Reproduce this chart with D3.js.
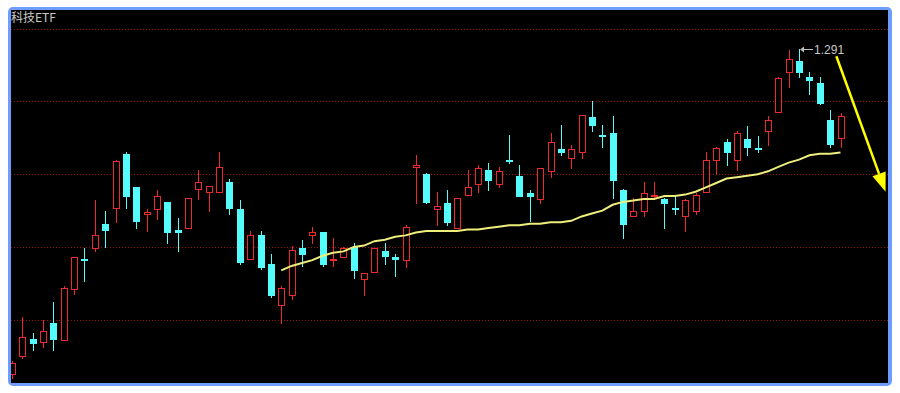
<!DOCTYPE html>
<html>
<head>
  <meta charset="utf-8">
  <script src="https://cdnjs.cloudflare.com/ajax/libs/d3/7.8.5/d3.min.js"></script>
  <style>
    body { margin: 0; background: #fff; }
    svg { display: block; }
  </style>
</head>
<body>
  <div id="chart"></div>
  <script>
    var title = '科技ETF';

    // daily candles, left to right
    var openPrices = [1.068, 1.080, 1.092, 1.090, 1.103, 1.091, 1.126, 1.147, 1.154, 1.171,
      1.182, 1.219, 1.196, 1.178, 1.181, 1.186, 1.167, 1.168, 1.195, 1.193,
      1.193, 1.200, 1.181, 1.147, 1.163, 1.143, 1.115, 1.122, 1.154, 1.163,
      1.165, 1.146, 1.148, 1.155, 1.133, 1.138, 1.152, 1.148, 1.146, 1.210,
      1.205, 1.181, 1.185, 1.168, 1.191, 1.198, 1.208, 1.198, 1.215, 1.204,
      1.192, 1.188, 1.207, 1.222, 1.216, 1.220, 1.244, 1.232, 1.233, 1.194,
      1.176, 1.180, 1.190, 1.188, 1.182, 1.176, 1.180, 1.193, 1.215, 1.227,
      1.215, 1.229, 1.223, 1.235, 1.248, 1.275, 1.283, 1.272, 1.268, 1.242, 1.230];
    var highPrices = [1.077, 1.107, 1.096, 1.105, 1.117, 1.128, 1.148, 1.154, 1.187, 1.180,
      1.215, 1.220, 1.196, 1.181, 1.194, 1.186, 1.175, 1.189, 1.208, 1.197,
      1.220, 1.202, 1.187, 1.166, 1.166, 1.150, 1.128, 1.156, 1.160, 1.169,
      1.165, 1.161, 1.155, 1.158, 1.137, 1.154, 1.158, 1.150, 1.170, 1.218,
      1.206, 1.193, 1.194, 1.189, 1.208, 1.211, 1.213, 1.210, 1.232, 1.211,
      1.194, 1.209, 1.233, 1.239, 1.225, 1.246, 1.255, 1.239, 1.245, 1.195,
      1.189, 1.200, 1.200, 1.189, 1.190, 1.188, 1.192, 1.220, 1.224, 1.229,
      1.235, 1.238, 1.231, 1.245, 1.272, 1.290, 1.291, 1.275, 1.272, 1.249, 1.247];
    var lowPrices = [1.065, 1.079, 1.084, 1.086, 1.084, 1.091, 1.123, 1.132, 1.152, 1.155,
      1.172, 1.182, 1.168, 1.166, 1.174, 1.158, 1.152, 1.168, 1.188, 1.180,
      1.193, 1.178, 1.143, 1.147, 1.140, 1.121, 1.103, 1.119, 1.142, 1.158,
      1.142, 1.142, 1.148, 1.134, 1.122, 1.138, 1.143, 1.135, 1.141, 1.185,
      1.185, 1.170, 1.170, 1.168, 1.191, 1.193, 1.194, 1.196, 1.213, 1.190,
      1.173, 1.185, 1.203, 1.218, 1.209, 1.216, 1.235, 1.224, 1.189, 1.161,
      1.176, 1.176, 1.188, 1.168, 1.178, 1.166, 1.178, 1.193, 1.206, 1.211,
      1.208, 1.218, 1.220, 1.225, 1.248, 1.265, 1.272, 1.260, 1.253, 1.224, 1.224];
    var closePrices = [1.075, 1.093, 1.089, 1.097, 1.092, 1.127, 1.148, 1.146, 1.163, 1.167,
      1.214, 1.190, 1.173, 1.179, 1.190, 1.165, 1.165, 1.189, 1.200, 1.197,
      1.210, 1.182, 1.145, 1.163, 1.141, 1.122, 1.127, 1.153, 1.150, 1.165,
      1.143, 1.147, 1.154, 1.139, 1.137, 1.154, 1.149, 1.147, 1.169, 1.211,
      1.186, 1.183, 1.172, 1.189, 1.196, 1.209, 1.201, 1.207, 1.214, 1.190,
      1.190, 1.209, 1.227, 1.220, 1.222, 1.246, 1.239, 1.231, 1.201, 1.171,
      1.180, 1.192, 1.191, 1.185, 1.181, 1.187, 1.191, 1.215, 1.223, 1.220,
      1.233, 1.224, 1.222, 1.242, 1.271, 1.284, 1.275, 1.270, 1.254, 1.226, 1.245];

    // moving average, drawn from the 27th candle on
    var maPrices = [null, null, null, null, null, null, null, null, null, null,
      null, null, null, null, null, null, null, null, null, null,
      null, null, null, null, null, null,
      1.139, 1.142, 1.144, 1.146, 1.149, 1.151, 1.152, 1.155, 1.156, 1.159,
      1.160, 1.162, 1.163, 1.165, 1.166, 1.166, 1.166, 1.166, 1.167, 1.167,
      1.168, 1.169, 1.170, 1.170, 1.171, 1.171, 1.172, 1.172, 1.173, 1.176,
      1.178, 1.180, 1.184, 1.186, 1.187, 1.188, 1.188, 1.190, 1.190, 1.191,
      1.193, 1.196, 1.199, 1.202, 1.203, 1.204, 1.205, 1.207, 1.210, 1.213,
      1.215, 1.218, 1.219, 1.219, 1.220];

    var gridPrices = [1.105, 1.155, 1.205, 1.255, 1.305];
    var peakLabel = '1.291';
    var peakIndex = 76;
    // yellow arrow, from / to in (candle index, price)
    var trendArrow = [[79.6, 1.286], [84.35, 1.193]];

    var width = 900, height = 393;
    var frame = {left: 8, top: 7, right: 892, bottom: 386};
    var plot = {left: 11, top: 10, right: 888, bottom: 383};
    var red = '#ec2a2a', cyan = '#54fcfc';

    var svg = d3.select('#chart').append('svg')
      .attr('width', width).attr('height', height);

    svg.append('rect')
      .attr('x', frame.left).attr('y', frame.top)
      .attr('width', frame.right - frame.left).attr('height', frame.bottom - frame.top)
      .attr('rx', 5)
      .style('fill', '#6e9cff');
    svg.append('rect')
      .attr('x', plot.left).attr('y', plot.top)
      .attr('width', plot.right - plot.left).attr('height', plot.bottom - plot.top)
      .style('fill', '#000');

    svg.append('clipPath').attr('id', 'plotClip')
      .append('rect')
      .attr('x', plot.left).attr('y', plot.top)
      .attr('width', plot.right - plot.left).attr('height', plot.bottom - plot.top);

    var x = d3.scaleLinear().domain([0, 80]).range([12, 840.5]);
    var y = d3.scaleLinear().domain([1.0616, 1.3178]).range([plot.bottom, plot.top]);

    var g = svg.append('g').attr('clip-path', 'url(#plotClip)');

    // dotted grid
    g.selectAll('line.grid').data(gridPrices).enter().append('line')
      .attr('class', 'grid')
      .attr('x1', plot.left).attr('x2', plot.right)
      .attr('y1', function(d){ return Math.round(y(d)) + 0.5; })
      .attr('y2', function(d){ return Math.round(y(d)) + 0.5; })
      .style('stroke', '#9a1010')
      .style('stroke-dasharray', '1,2')
      .style('shape-rendering', 'crispEdges');

    var candles = openPrices.map(function(o, i){
      return {i: i, open: o, high: highPrices[i], low: lowPrices[i], close: closePrices[i]};
    });

    var bodyW = 7;
    var cg = g.selectAll('g.candle').data(candles).enter().append('g')
      .attr('class', 'candle')
      .style('shape-rendering', 'crispEdges');

    cg.each(function(d){
      var el = d3.select(this);
      var up = d.close >= d.open;
      var color = up ? red : cyan;
      var cx = Math.round(x(d.i)) + 0.5;
      var top = Math.round(y(Math.max(d.open, d.close)));
      var bot = Math.round(y(Math.min(d.open, d.close)));
      var hi = Math.round(y(d.high)), lo = Math.round(y(d.low));
      var left = cx - 0.5 - Math.floor(bodyW / 2);

      if (bot - top <= 1) {
        // doji: a flat dash
        el.append('line').attr('x1', cx).attr('x2', cx).attr('y1', hi).attr('y2', lo + 1)
          .style('stroke', color);
        el.append('line').attr('x1', left).attr('x2', left + bodyW)
          .attr('y1', top + 0.5).attr('y2', top + 0.5)
          .style('stroke', color).style('stroke-width', 2);
        return;
      }
      if (up) {
        el.append('line').attr('x1', cx).attr('x2', cx).attr('y1', hi).attr('y2', top)
          .style('stroke', color);
        el.append('line').attr('x1', cx).attr('x2', cx).attr('y1', bot).attr('y2', lo + 1)
          .style('stroke', color);
        el.append('rect')
          .attr('x', left + 0.5).attr('y', top + 0.5)
          .attr('width', bodyW - 1).attr('height', bot - top)
          .style('fill', '#000').style('stroke', color);
      } else {
        el.append('line').attr('x1', cx).attr('x2', cx).attr('y1', hi).attr('y2', lo + 1)
          .style('stroke', color);
        el.append('rect')
          .attr('x', left).attr('y', top)
          .attr('width', bodyW).attr('height', bot - top + 1)
          .style('fill', color);
      }
    });

    // moving average
    var maLine = d3.line()
      .defined(function(d){ return d != null; })
      .x(function(d, i){ return x(i); })
      .y(function(d){ return y(d); });
    g.append('path')
      .datum(maPrices)
      .attr('d', maLine)
      .style('fill', 'none')
      .style('stroke', '#eeee7c')
      .style('stroke-width', 2);

    // peak marker
    var px = x(peakIndex), py = Math.round(y(highPrices[peakIndex])) + 0.5;
    g.append('line')
      .attr('x1', px + 2).attr('x2', px + 14).attr('y1', py).attr('y2', py)
      .style('stroke', '#c0c0c0');
    g.append('path')
      .attr('d', 'M' + (px + 1) + ',' + py + 'l4,-3l0,6z')
      .style('fill', '#c0c0c0');
    g.append('text')
      .attr('x', px + 15).attr('y', py + 4)
      .style('font-family', 'Arial, "Liberation Sans", sans-serif')
      .style('font-size', '12px')
      .style('fill', '#c8c8c8')
      .text(peakLabel);

    // trend arrow
    var a0 = [x(trendArrow[0][0]), y(trendArrow[0][1])];
    var a1 = [x(trendArrow[1][0]), y(trendArrow[1][1])];
    var dx = a1[0] - a0[0], dy = a1[1] - a0[1];
    var len = Math.sqrt(dx * dx + dy * dy);
    var ux = dx / len, uy = dy / len;
    var headL = 19, headW = 7;
    var base = [a1[0] - ux * headL, a1[1] - uy * headL];
    svg.append('line')
      .attr('x1', a0[0]).attr('y1', a0[1])
      .attr('x2', base[0]).attr('y2', base[1])
      .style('stroke', '#ffff00').style('stroke-width', 2.5);
    svg.append('path')
      .attr('d', 'M' + a1[0] + ',' + a1[1] +
        'L' + (base[0] - uy * headW) + ',' + (base[1] + ux * headW) +
        'L' + (base[0] + uy * headW) + ',' + (base[1] - ux * headW) + 'Z')
      .style('fill', '#ffff00');

    svg.append('text')
      .attr('x', 11).attr('y', 22)
      .style('font-family', '"Noto Sans CJK SC", sans-serif')
      .style('font-size', '12px')
      .style('fill', '#c8c8c8')
      .text(title);
  </script>
</body>
</html>
